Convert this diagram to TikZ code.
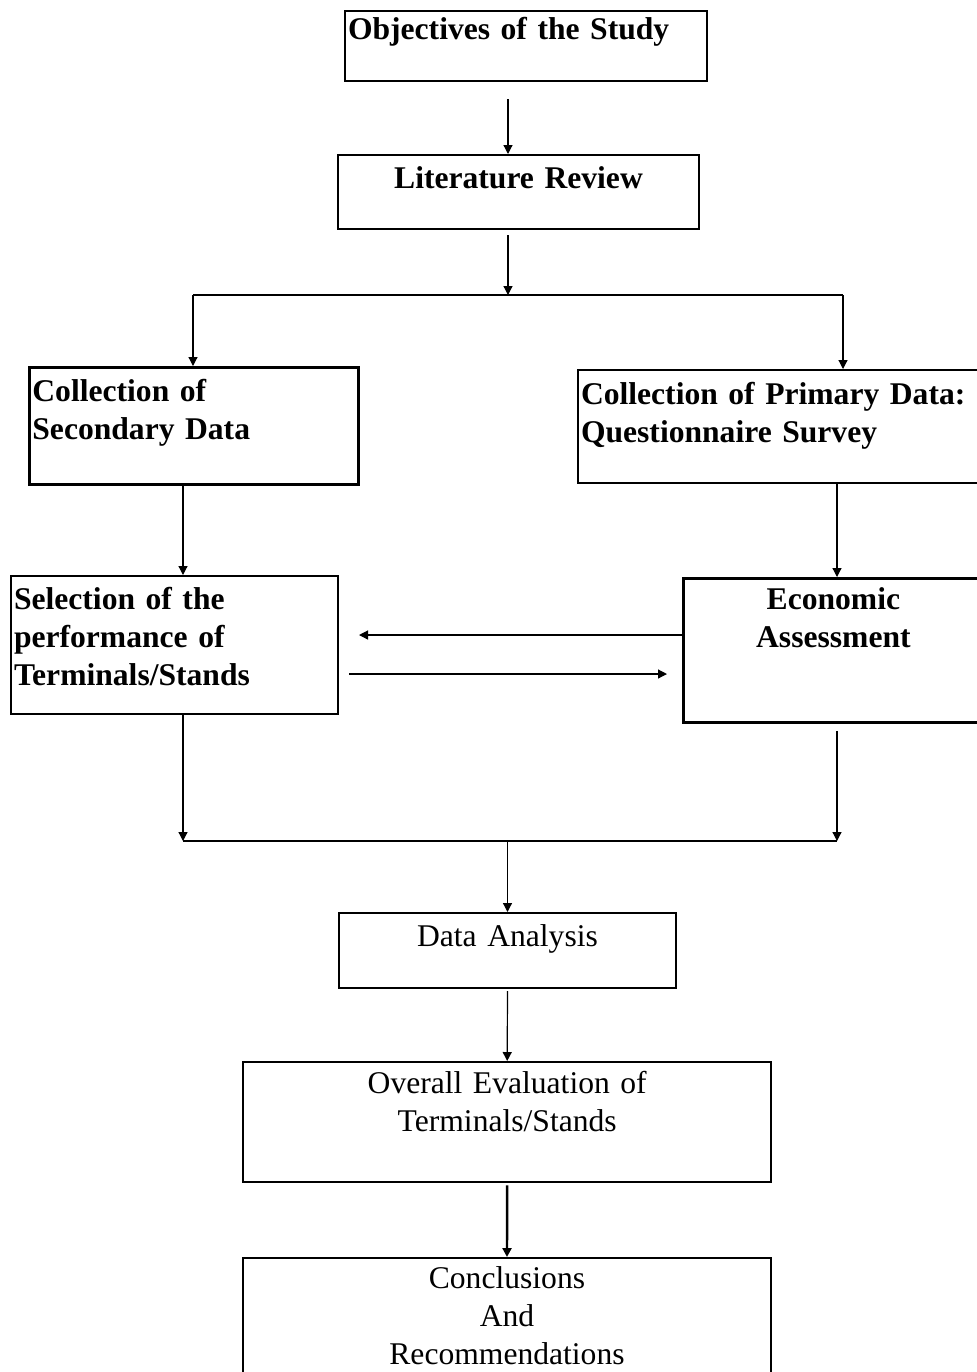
\documentclass[tikz,border=0pt]{standalone}
\usepackage{fontspec}
\setmainfont{Liberation Serif}
\usetikzlibrary{arrows.meta}

\begin{document}
\begin{tikzpicture}[x=0.5pt, y=-0.5pt,
  every node/.style={font=\fontsize{15.8}{19}\selectfont},
  >={Triangle[length=4.5pt,width=4.5pt]},
  stage/.style={draw, line width=1pt, anchor=north west, inner xsep=1.5pt, inner ysep=0pt},
  arr/.style={->, line width=0.6pt}]
  \useasboundingbox (0,0) rectangle (977,1372);

  % boxes
  \node[stage, text width=178pt, align=left, text height=14pt, text depth=21pt, font=\fontsize{15.8}{19}\selectfont\bfseries] (obj) at (344,10) {Objectives of the Study};
  \node[stage, text width=177.5pt, align=center, text height=16.5pt, text depth=20.5pt, font=\fontsize{15.8}{19}\selectfont\bfseries] (lit) at (337,154) {Literature Review};
  \node[stage, line width=1.4pt, text width=161.5pt, align=left, text height=17pt, text depth=41.5pt, font=\fontsize{15.8}{19}\selectfont\bfseries] (sec) at (28,366) {Collection of\\Secondary Data};
  \node[stage, text width=203.5pt, align=left, text height=17pt, text depth=39.5pt, font=\fontsize{15.8}{19}\selectfont\bfseries] (prim) at (577,369) {Collection of Primary Data:\\Questionnaire Survey};
  \node[stage, text width=160.5pt, align=left, text height=16.5pt, text depth=52.5pt, font=\fontsize{15.8}{19}\selectfont\bfseries] (sel) at (10,575) {Selection of the\\performance of\\Terminals/Stands};
  \node[stage, line width=1.4pt, text width=147pt, align=center, text height=15.5pt, text depth=56.5pt, font=\fontsize{15.8}{19}\selectfont\bfseries] (econ) at (682,577) {Economic\\Assessment};
  \node[stage, text width=165.5pt, align=center, text height=16.5pt, text depth=21pt] (ana) at (338,912) {Data Analysis};
  \node[stage, line width=1.2pt, text width=261pt, align=center, text height=15.5pt, text depth=44.5pt] (eva) at (242,1061) {Overall Evaluation of\\Terminals/Stands};
  \node[stage, text width=261pt, align=center, text height=15pt, text depth=51.5pt] (con) at (242,1257) {Conclusions\\And\\Recommendations};

  % junctions
  \coordinate (jtop) at (508,295);
  \coordinate (jl) at (193,295);
  \coordinate (jr) at (843,295);
  \coordinate (bl) at (183,841);
  \coordinate (br) at (837,841);

  % top part
  \draw[arr, shorten <=8.5pt] (obj.south -| jtop) -- (lit.north -| jtop);
  \draw[arr, shorten <=2.5pt] (lit.south -| jtop) -- (jtop);
  \draw[line width=1.3pt] (jl) -- (jtop);
  \draw[line width=0.9pt] (jtop) -- (jr);
  \draw[arr] (jl) -- (jl |- sec.north);
  \draw[arr] (jr) -- (jr |- prim.north);
  \draw[arr] (sec.south -| bl) -- (sel.north -| bl);
  \draw[arr] (prim.south -| br) -- (econ.north -| br);

  % feedback between the two
  \draw[arr, shorten >=10pt] ([yshift=5pt]econ.west |- sel.east) -- ([yshift=5pt]sel.east);
  \draw[arr, shorten <=5pt, shorten >=7.5pt] ([yshift=-14.5pt]sel.east) -- ([yshift=-14.5pt]econ.west |- sel.east);

  % bottom part
  \draw[arr] (sel.south -| bl) -- (bl);
  \draw[arr, shorten <=3.5pt] (econ.south -| br) -- (br);
  \draw[line width=0.9pt] (bl) -- (br);
  \draw[arr] (ana.north |- bl) -- (ana.north);
  \draw[arr, shorten <=1pt] (ana.south) -- (eva.north);
  \draw[arr, line width=1.2pt, shorten <=1pt] (eva.south) -- (con.north);
\end{tikzpicture}
\end{document}
